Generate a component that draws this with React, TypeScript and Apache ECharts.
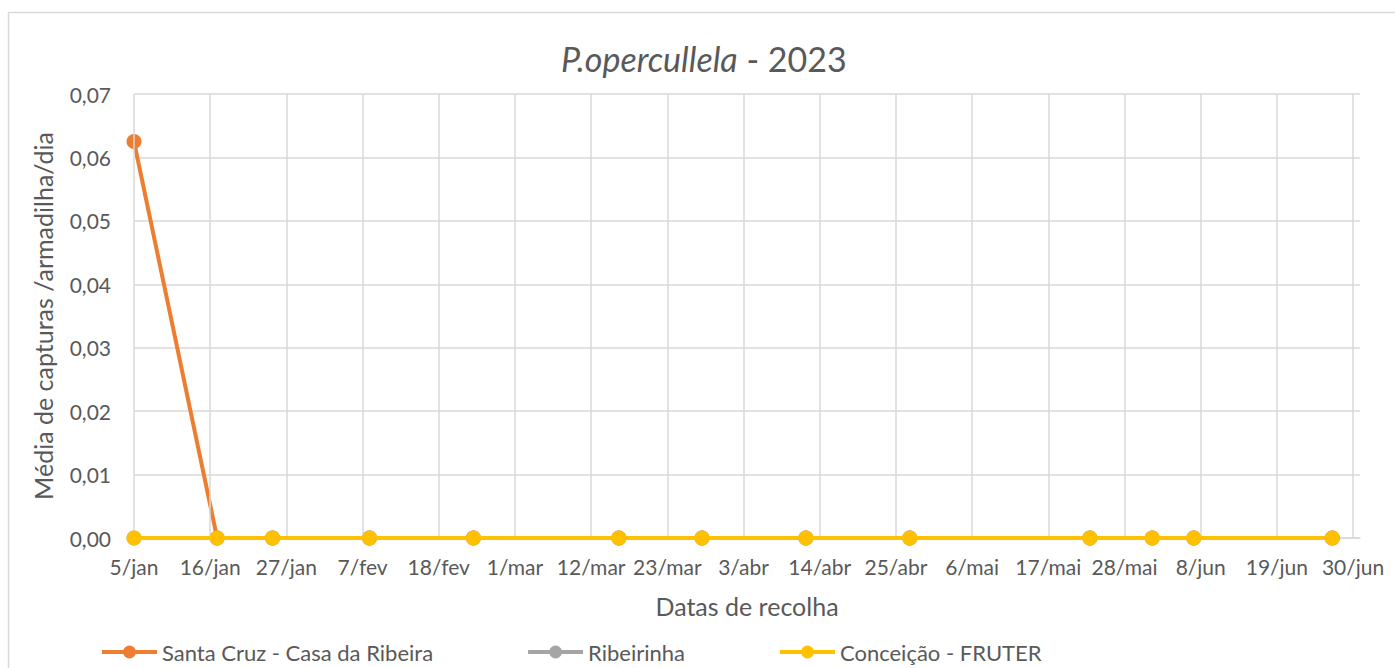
import React, { useEffect, useRef } from "react";
import * as echarts from "echarts";

const startDate = "2023-01-05";
const tickStepDays = 11;
const xTickLabels = ["5/jan", "16/jan", "27/jan", "7/fev", "18/fev", "1/mar", "12/mar", "23/mar", "3/abr", "14/abr", "25/abr", "6/mai", "17/mai", "28/mai", "8/jun", "19/jun", "30/jun"];
const axisMaxDate = "2023-07-01";

const collectDates = ["2023-01-05", "2023-01-17", "2023-01-25", "2023-02-08", "2023-02-23", "2023-03-16", "2023-03-28", "2023-04-12", "2023-04-27", "2023-05-23", "2023-06-01", "2023-06-07", "2023-06-27"];
const santaCruz = [0.0625, 0, 0, 0, 0, 0, 0, 0, 0, 0, 0, 0, 0];
const ribeirinha = [0, 0, 0, 0, 0, 0, 0, 0, 0, 0, 0, 0, 0];
const conceicao = [0, 0, 0, 0, 0, 0, 0, 0, 0, 0, 0, 0, 0];

const seriesNames = ["Santa Cruz - Casa da Ribeira", "Ribeirinha", "Conceição - FRUTER"];
const seriesColors = ["#ED7D31", "#A5A5A5", "#FFC000"];

const dayOf = (s: string) => (Date.parse(s + "T00:00:00Z") - Date.parse(startDate + "T00:00:00Z")) / 86400000;

const FONT = "Lato";
const TXT = "#595959";
const GRID = "#D9D9D9";

export default function App() {
  const ref = useRef<HTMLDivElement>(null);
  useEffect(() => {
    if (!ref.current) return;
    const chart = echarts.init(ref.current, null, { renderer: "svg" });
    const mk = (vals: number[]) => collectDates.map((d, i) => [dayOf(d), vals[i]]);
    const valueSets = [santaCruz, ribeirinha, conceicao];
    const option: any = {
      animation: false,
      backgroundColor: "#ffffff",
      textStyle: { fontFamily: FONT },
      title: {
        text: "{i|P.opercullela} - 2023",
        left: 556,
        top: 36,
        textStyle: {
          fontFamily: FONT,
          fontSize: 34,
          fontWeight: "normal",
          color: TXT,
          rich: { i: { fontFamily: FONT, fontSize: 34, fontStyle: "italic", color: TXT } },
        },
      },
      graphic: [
        {
          type: "rect",
          shape: { x: 8.5, y: 12.5, width: 1500, height: 800 },
          style: { fill: "none", stroke: GRID, lineWidth: 1.5 },
          silent: true,
          z: -10,
        },
      ],
      grid: { left: 134, right: 35, top: 94, bottom: 130, containLabel: false },
      legend: {
        data: seriesNames,
        left: 95,
        top: 636,
        itemWidth: 55,
        itemHeight: 16,
        itemGap: 93,
        lineStyle: { width: 4 },
        textStyle: { fontFamily: FONT, fontSize: 22, color: TXT },
      },
      xAxis: {
        type: "value",
        min: 0,
        max: dayOf(axisMaxDate),
        interval: tickStepDays,
        name: "Datas de recolha",
        nameLocation: "middle",
        nameGap: 55,
        nameTextStyle: { fontFamily: FONT, fontSize: 25, color: TXT },
        axisLine: { show: true, lineStyle: { color: GRID, width: 1.5 } },
        axisTick: { show: false },
        splitLine: { show: false },
        axisLabel: {
          showMaxLabel: false,
          fontFamily: FONT,
          fontSize: 21,
          color: TXT,
          margin: 18,
          formatter: (v: number) => {
            const idx = Math.round(v / tickStepDays);
            return Math.abs(idx * tickStepDays - v) < 1e-6 && xTickLabels[idx] ? xTickLabels[idx] : "";
          },
        },
      },
      yAxis: {
        type: "value",
        min: 0,
        max: 0.07,
        interval: 0.01,
        name: "Média de capturas /armadilha/dia",
        nameLocation: "middle",
        nameGap: 79,
        nameTextStyle: { fontFamily: FONT, fontSize: 25, color: TXT },
        axisLine: { show: false },
        axisTick: { show: false },
        splitLine: { show: true, lineStyle: { color: GRID, width: 1.5 } },
        axisLabel: {
          fontFamily: FONT,
          fontSize: 21,
          color: TXT,
          margin: 23,
          formatter: (v: number) => v.toFixed(2).replace(".", ","),
        },
      },
      series: [
        {
          type: "line",
          data: [],
          silent: true,
          z: 1,
          markLine: {
            silent: true,
            symbol: ["none", "none"],
            label: { show: false },
            lineStyle: { color: GRID, type: "solid", width: 1.5 },
            data: xTickLabels.map((_, i) => ({ xAxis: i * tickStepDays })),
          },
        },
        ...seriesNames.map((name, k) => ({
          name,
          type: "line",
          data: mk(valueSets[k]),
          z: 3 + k,
          symbol: "circle",
          symbolSize: 15,
          showSymbol: true,
          color: seriesColors[k],
          itemStyle: { color: seriesColors[k] },
          lineStyle: { color: seriesColors[k], width: 4 },
        })),
      ],
    };
    chart.setOption(option);
    return () => chart.dispose();
  }, []);
  return <div ref={ref} style={{ position: "fixed", left: 0, top: 0, width: 1395, height: 668 }} />;
}
